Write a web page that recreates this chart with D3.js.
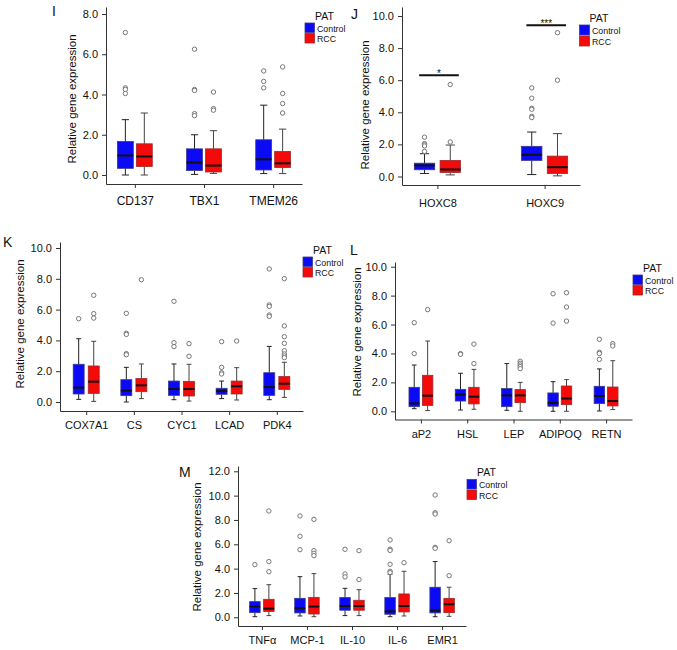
<!DOCTYPE html>
<html><head><meta charset="utf-8">
<script src="https://cdn.jsdelivr.net/npm/d3@7"></script>
<style>body{margin:0;background:#fff} text{font-family:"Liberation Sans",Arial,Helvetica,sans-serif}</style>
</head><body><svg id="c" width="677" height="650"></svg>
<script>
// ---------- DATA (box stats: [lowWhisker, Q1, median, Q3, highWhisker]) ----------
const seriesNames = ["Control", "RCC"];
const legendTitle = "PAT";
const yTitle = "Relative gene expression";

// Panel I
const catsI = ["CD137", "TBX1", "TMEM26"];
const ticksI = [0, 2, 4, 6, 8];
const ctrlI = [[0.0, 0.33, 0.97, 1.67, 2.75], [0.03, 0.22, 0.62, 1.3, 2.0], [0.07, 0.25, 0.78, 1.75, 3.47]];
const rccI = [[0.0, 0.42, 0.92, 1.55, 3.08], [0.08, 0.15, 0.47, 1.3, 2.2], [0.07, 0.37, 0.58, 1.17, 2.28]];
const ctrlOutI = [[7.08, 4.33, 4.25, 4.05], [6.25, 4.25, 4.2, 3.05, 2.95], [5.17, 4.65, 4.33]];
const rccOutI = [[], [4.12, 3.3, 3.22], [5.37, 4.05, 3.55, 3.08]];

// Panel J
const catsJ = ["HOXC8", "HOXC9"];
const ticksJ = [0, 2, 4, 6, 8, 10];
const ctrlJ = [[0.19, 0.42, 0.69, 0.83, 1.42], [0.12, 1.0, 1.35, 1.88, 2.77]];
const rccJ = [[0.1, 0.25, 0.44, 1.0, 1.96], [0.04, 0.19, 0.58, 1.27, 2.67]];
const ctrlOutJ = [[2.45, 2.05, 1.98, 1.9, 1.56], [5.52, 4.88, 4.25, 4.19, 3.75, 3.67]];
const rccOutJ = [[5.73, 2.15], [8.96, 6.0]];
const sigCatsJ = ["HOXC8", "HOXC9"];
const sigValsJ = [6.31, 9.42];
const sigLabelsJ = ["*", "***"];

// Panel K
const catsK = ["COX7A1", "CS", "CYC1", "LCAD", "PDK4"];
const ticksK = [0, 2, 4, 6, 8, 10];
const ctrlK = [[0.17, 0.52, 0.93, 2.45, 4.11], [0.0, 0.41, 0.74, 1.45, 2.25], [0.15, 0.43, 0.84, 1.36, 2.47], [0.22, 0.5, 0.71, 0.89, 1.36], [0.15, 0.43, 0.97, 1.9, 3.61]];
const rccK = [[0.04, 0.56, 1.32, 2.34, 3.94], [0.22, 0.67, 1.08, 1.52, 2.47], [0.06, 0.39, 0.84, 1.34, 2.45], [0.13, 0.52, 1.02, 1.36, 2.23], [0.3, 0.82, 1.19, 1.65, 2.58]];
const ctrlOutK = [[5.41], [5.76, 4.46, 4.39, 3.14, 3.07], [6.54, 3.85, 3.6], [3.92, 2.25, 1.9, 1.82], [8.64, 6.3, 6.21, 5.65, 5.56]];
const rccOutK = [[6.93, 5.74, 5.45], [7.94], [3.79, 2.97], [3.96], [8.01, 4.94, 4.24, 3.81, 3.33, 3.12, 2.99, 2.88]];

// Panel L
const catsL = ["aP2", "HSL", "LEP", "ADIPOQ", "RETN"];
const ticksL = [0, 2, 4, 6, 8, 10];
const ctrlL = [[0.18, 0.32, 0.55, 1.66, 3.2], [0.09, 0.71, 1.15, 1.52, 2.63], [0.07, 0.32, 1.1, 1.57, 3.3], [0.0, 0.35, 0.58, 1.27, 2.05], [0.02, 0.53, 1.06, 1.73, 2.93]];
const rccL = [[0.05, 0.41, 1.08, 2.49, 4.86], [0.14, 0.51, 1.01, 1.66, 2.9], [0.0, 0.6, 1.1, 1.5, 2.0], [0.0, 0.46, 0.88, 1.75, 2.19], [0.12, 0.37, 0.71, 1.68, 3.5]];
const ctrlOutL = [[6.13, 3.99], [3.99, 3.94], [], [8.13, 6.1], [4.98, 4.08, 4.0, 3.59]];
const rccOutL = [[7.03], [4.65, 3.3], [3.46, 3.32, 3.2, 3.09, 2.95], [8.2, 7.21, 6.24], [4.68, 4.52]];

// Panel M
const catsM = ["TNF\u03b1", "MCP-1", "IL-10", "IL-6", "EMR1"];
const ticksM = [0, 2, 4, 6, 8, 10, 12];
const ctrlM = [[0.05, 0.38, 0.88, 1.29, 2.36], [0.11, 0.36, 0.74, 1.56, 3.34], [0.14, 0.58, 0.93, 1.62, 2.38], [0.05, 0.25, 0.49, 1.62, 3.53], [0.05, 0.36, 0.55, 2.47, 4.58]];
const rccM = [[0.14, 0.47, 0.71, 1.48, 2.68], [0.05, 0.27, 0.88, 1.64, 3.59], [0.14, 0.58, 0.93, 1.4, 2.27], [0.11, 0.44, 0.93, 1.92, 3.78], [0.08, 0.38, 1.07, 1.56, 2.47]];
const ctrlOutM = [[4.33], [8.33, 6.66, 5.56], [5.59, 3.56, 3.32], [6.36, 5.59, 5.5, 4.36, 3.78, 3.67], [10.05, 8.6, 8.49, 5.75, 5.67]];
const rccOutM = [[8.74, 4.58, 3.75], [8.05, 5.48, 5.26, 5.07], [5.48, 3.1], [4.49], [6.3, 3.42]];

// ---------- LAYOUT ----------
const panels = [
  {label: "I", lx: 52, ly: 16, cats: catsI, ticks: ticksI, ctrl: ctrlI, rcc: rccI, ctrlOut: ctrlOutI, rccOut: rccOutI,
   x0: 106, x1: 302, pad: 0.417, yZero: 175, yTickMax: 14, tickMax: 8, yTop: 7, yBottom: 184,
   off: 0.137, bw: 0.23, xPad: 8, catFont: 12, titleX: 75.5, titleY: 99,
   leg: [305, 23, 9.5]},
  {label: "J", lx: 351, ly: 19, cats: catsJ, ticks: ticksJ, ctrl: ctrlJ, rcc: rccJ, ctrlOut: ctrlOutJ, rccOut: rccOutJ,
   x0: 402, x1: 580, pad: 0.33, yZero: 176.5, yTickMax: 16, tickMax: 10, yTop: 7, yBottom: 185,
   off: 0.12, bw: 0.19, xPad: 10, catFont: 11, titleX: 369, titleY: 105,
   leg: [579.5, 25, 10], sig: true},
  {label: "K", lx: 3, ly: 247, cats: catsK, ticks: ticksK, ctrl: ctrlK, rcc: rccK, ctrlOut: ctrlOutK, rccOut: rccOutK,
   x0: 60, x1: 303, pad: 0.55, yZero: 402, yTickMax: 248, tickMax: 10, yTop: 242, yBottom: 411,
   off: 0.158, bw: 0.23, xPad: 6, catFont: 11, titleX: 23.5, titleY: 324,
   leg: [303, 257, 9.5]},
  {label: "L", lx: 350, ly: 255, cats: catsL, ticks: ticksL, ctrl: ctrlL, rcc: rccL, ctrlOut: ctrlOutL, rccOut: rccOutL,
   x0: 395, x1: 632, pad: 0.56, yZero: 411.3, yTickMax: 266.7, tickMax: 10, yTop: 262, yBottom: 419.5,
   off: 0.145, bw: 0.226, xPad: 7, catFont: 11, titleX: 360.5, titleY: 332,
   leg: [633, 275, 9.5]},
  {label: "M", lx: 179, ly: 477, cats: catsM, ticks: ticksM, ctrl: ctrlM, rcc: rccM, ctrlOut: ctrlOutM, rccOut: rccOutM,
   x0: 238, x1: 466, pad: 0.53, yZero: 617.3, yTickMax: 471.3, tickMax: 12, yTop: 466, yBottom: 626,
   off: 0.155, bw: 0.233, xPad: 6, catFont: 11, titleX: 201, titleY: 547,
   leg: [467, 479.5, 9.5]}
];

const fills = ["#0a0af5", "#f50a0a"];
const strokes = ["#3a3a8c", "#9c2a2a"];
const svg = d3.select("#c");
svg.append("rect").attr("width", 677).attr("height", 650).attr("fill", "#fff");

function drawPanel(cfg) {
  const g = svg.append("g");
  const x = d3.scalePoint().domain(cfg.cats).range([cfg.x0, cfg.x1]).padding(cfg.pad);
  const step = x.step();
  const yb = d3.scaleLinear().domain([0, cfg.tickMax]).range([cfg.yZero, cfg.yTickMax]);
  const y = d3.scaleLinear().domain([yb.invert(cfg.yBottom), yb.invert(cfg.yTop)]).range([cfg.yBottom, cfg.yTop]);

  const ya = d3.axisLeft(y).tickValues(cfg.ticks).tickFormat(d3.format(".1f")).tickSize(4).tickPadding(4).tickSizeOuter(0);
  const yg = g.append("g").attr("transform", `translate(${cfg.x0},0)`).call(ya);
  yg.selectAll("text").attr("font-size", 11).attr("fill", "#111").style("font-family", '"Liberation Sans",Arial,sans-serif');
  const xa = d3.axisBottom(x).tickSize(4).tickPadding(cfg.xPad).tickSizeOuter(0);
  const xg = g.append("g").attr("transform", `translate(0,${cfg.yBottom})`).call(xa);
  xg.selectAll("text").attr("font-size", cfg.catFont).attr("fill", "#111").style("font-family", '"Liberation Sans",Arial,sans-serif');
  [yg, xg].forEach(a => { a.selectAll("path,line").attr("stroke", "#333").attr("stroke-width", 1); });

  g.append("text").attr("transform", `translate(${cfg.titleX},${cfg.titleY}) rotate(-90)`)
    .attr("text-anchor", "middle").attr("font-size", 11.5).attr("fill", "#111").text(yTitle);
  g.append("text").attr("x", cfg.lx).attr("y", cfg.ly).attr("font-size", 14).attr("fill", "#111").text(cfg.label);

  const bw = step * cfg.bw, cap = bw * 0.45;
  const groups = [{stats: cfg.ctrl, out: cfg.ctrlOut, dx: -step * cfg.off},
                  {stats: cfg.rcc, out: cfg.rccOut, dx: step * cfg.off}];
  groups.forEach((grp, gi) => {
    cfg.cats.forEach((c, i) => {
      const s = grp.stats[i];
      const cx = x(c) + grp.dx;
      const wl = g.append("g").attr("stroke", gi === 0 ? "#222" : "#444").attr("stroke-width", 1);
      wl.append("line").attr("x1", cx).attr("x2", cx).attr("y1", y(s[3])).attr("y2", y(s[4]));
      wl.append("line").attr("x1", cx).attr("x2", cx).attr("y1", y(s[1])).attr("y2", y(s[0]));
      wl.append("line").attr("x1", cx - cap / 2).attr("x2", cx + cap / 2).attr("y1", y(s[4])).attr("y2", y(s[4]));
      wl.append("line").attr("x1", cx - cap / 2).attr("x2", cx + cap / 2).attr("y1", y(s[0])).attr("y2", y(s[0]));
      g.append("rect").attr("x", cx - bw / 2).attr("width", bw).attr("y", y(s[3])).attr("height", y(s[1]) - y(s[3]))
        .attr("fill", fills[gi]).attr("stroke", strokes[gi]).attr("stroke-width", 0.8);
      g.append("line").attr("x1", cx - bw / 2).attr("x2", cx + bw / 2).attr("y1", y(s[2])).attr("y2", y(s[2]))
        .attr("stroke", "#111").attr("stroke-width", 2);
      grp.out[i].forEach(v => {
        g.append("circle").attr("cx", cx).attr("cy", y(v)).attr("r", 2.2)
          .attr("fill", "#fff").attr("stroke", "#777").attr("stroke-width", 1);
      });
    });
  });

  if (cfg.sig) {
    sigCatsJ.forEach((c, i) => {
      const cx = x(c);
      g.append("line").attr("x1", cx - 0.17 * step).attr("x2", cx + 0.2 * step)
        .attr("y1", y(sigValsJ[i])).attr("y2", y(sigValsJ[i])).attr("stroke", "#111").attr("stroke-width", 2);
      g.append("text").attr("x", cx + 0.015 * step).attr("y", y(sigValsJ[i]) + 2).attr("text-anchor", "middle")
        .attr("font-size", 10).attr("fill", "#111").text(sigLabelsJ[i]);
    });
  }

  // legend
  const [lx, ly, sz] = cfg.leg;
  g.append("text").attr("x", lx + 10).attr("y", ly - 3.5).attr("font-size", 10.5).attr("fill", "#111").text(legendTitle);
  seriesNames.forEach((n, k) => {
    const yy = ly + k * (sz + 1);
    g.append("rect").attr("x", lx).attr("y", yy).attr("width", sz).attr("height", sz)
      .attr("fill", fills[k]).attr("stroke", strokes[k]).attr("stroke-width", 0.8);
    g.append("text").attr("x", lx + sz + 2.5).attr("y", yy + sz - 1).attr("font-size", 8.8).attr("fill", "#111").text(n);
  });
}

panels.forEach(drawPanel);
</script></body></html>
